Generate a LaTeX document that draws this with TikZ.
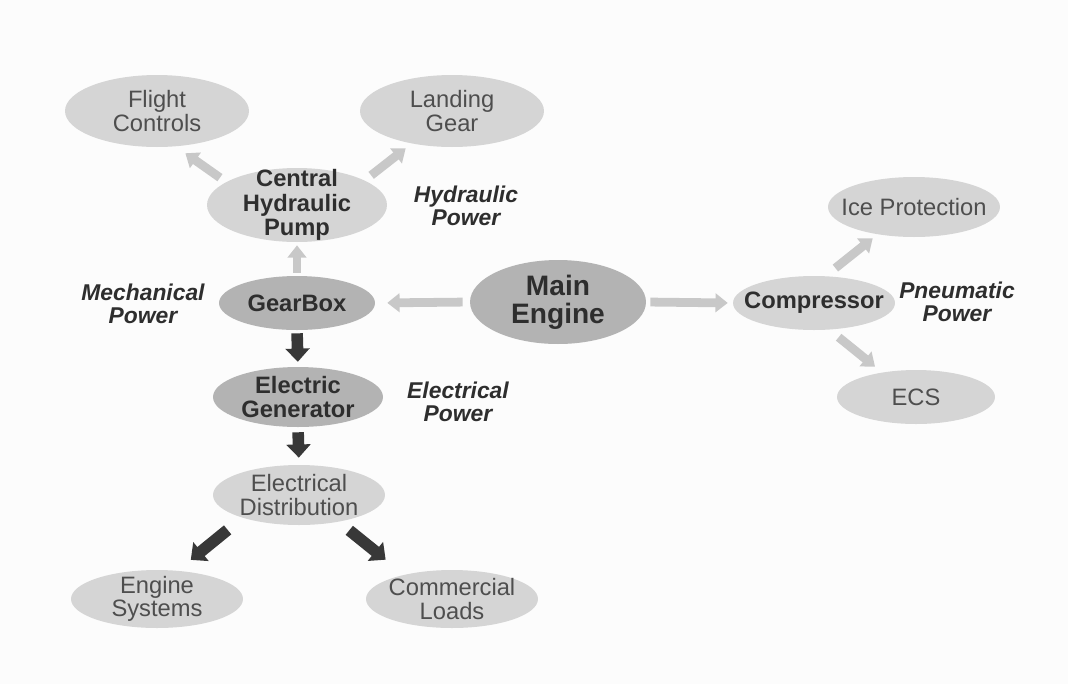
\documentclass[tikz,border=0pt]{standalone}
\usepackage{fontspec}
\setmainfont{Liberation Sans}
\usetikzlibrary{shapes.geometric,arrows.meta}

\definecolor{bg}{HTML}{FCFCFC}
\definecolor{lightfill}{HTML}{D5D5D5}
\definecolor{darkfill}{HTML}{B3B3B3}
\definecolor{lighttext}{HTML}{4E4E4E}
\definecolor{darktext}{HTML}{2E2E2E}
\definecolor{lightarrow}{HTML}{C8C8C8}
\definecolor{darkarrow}{HTML}{383838}

\begin{document}
\begin{tikzpicture}[x=0.02cm,y=-0.02cm,
  oval/.style n args={2}{ellipse, inner sep=0pt, draw=none,
    minimum width=#1cm, minimum height=#2cm},
  lite/.style={fill=lightfill},
  heavy/.style={fill=darkfill},
  txt/.style={font=\fontsize{13.5}{13.4}\selectfont, text=lighttext, align=center, inner sep=0pt},
  btxt/.style={font=\fontsize{13.5}{13.8}\selectfont\bfseries, text=darktext, align=center, inner sep=0pt},
  powerlbl/.style={font=\fontsize{13}{12.8}\selectfont\bfseries\itshape, text=darktext, align=center, inner sep=0pt},
  larrow/.style={draw=lightarrow, line width=5pt, -{Triangle[width=10.5pt,length=7pt]}},
  darrow/.style={draw=darkarrow, line width=6.6pt, -{Triangle[width=13.5pt,length=7.5pt]}}
]
% canvas
\fill[bg] (0,0) rectangle (1068,684);
\useasboundingbox (0,0) rectangle (1068,684);

% hydraulic branch
\node[oval={3.68}{1.44}, lite, label={[txt]center:Flight\\Controls}] (fc) at (157,111) {};
\node[oval={3.68}{1.44}, lite, label={[txt]center:Landing\\Gear}] (lg) at (452,111) {};
\node[oval={3.60}{1.48}, lite, label={[btxt]center:Central\\Hydraulic\\Pump}] (pump) at (297,205) {};

% engine and gearbox
\node[oval={3.12}{1.08}, heavy, label={[btxt]center:GearBox}] (gb) at (297,303) {};
\node[oval={3.52}{1.68}, heavy, label={[btxt,font=\fontsize{16}{16}\selectfont\bfseries]center:Main\\Engine}] (me) at (558,302) {};

% pneumatic branch
\node[oval={3.24}{1.08}, lite, label={[btxt]center:Compressor}] (comp) at (814,303) {};
\node[oval={3.44}{1.20}, lite, label={[txt]center:Ice Protection}] (ice) at (914,207) {};
\node[oval={3.16}{1.08}, lite, label={[txt]center:ECS}] (ecs) at (916,397) {};

% electrical branch
\node[oval={3.40}{1.20}, heavy, label={[btxt]center:Electric\\Generator}] (gen) at (298,397) {};
\node[oval={3.44}{1.20}, lite, label={[txt]center:Electrical\\Distribution}] (dist) at (299,495) {};
\node[oval={3.44}{1.16}, lite, label={[txt]center:Engine\\Systems}] (es) at (157,599) {};
\node[oval={3.44}{1.16}, lite, label={[txt]center:Commercial\\Loads}] (cl) at (452,599) {};

% power type labels
\node[powerlbl] (hydp) at (466,206) {Hydraulic\\Power};
\node[powerlbl] (mechp) at (143,304) {Mechanical\\Power};
\node[powerlbl] (elecp) at (458,402) {Electrical\\Power};
\node[powerlbl] (pneup) at (957,302) {Pneumatic\\Power};

% light connectors
\draw[larrow, shorten <=4pt, shorten >=6.8pt] (me.180) -- (gb.0);
\draw[larrow, shorten <=2.3pt, shorten >=2.8pt] (me.0) -- (comp.180);
\draw[larrow, shorten <=1.7pt, shorten >=1.7pt] (gb.90) -- (pump.-90);
\draw[larrow, shorten <=4.2pt, shorten >=6.6pt] (pump.162.3) -- (fc.-62.3);
\draw[larrow, shorten <=4.6pt, shorten >=4.3pt] (pump.20.6) -- (lg.-141.8);
\draw[larrow, shorten <=7.2pt, shorten >=3.5pt] (comp.67.8) -- (ice.-143.9);
\draw[larrow, shorten <=6.7pt, shorten >=5.1pt] (comp.-60.8) -- (ecs.144.4);

% dark connectors
\draw[darrow, shorten <=1.7pt, shorten >=2.8pt] (gb.-90) -- (gen.90);
\draw[darrow, shorten <=2.8pt, shorten >=4pt] (gen.-90) -- (dist.90);
\draw[darrow, shorten <=10.8pt, shorten >=9.6pt] (dist.202.4) -- (es.54.9);
\draw[darrow, shorten <=7.6pt, shorten >=13.5pt] (dist.-34.5) -- (cl.153.7);
\end{tikzpicture}
\end{document}
